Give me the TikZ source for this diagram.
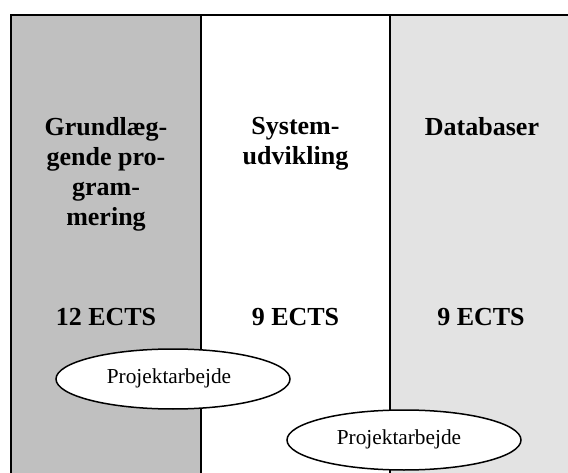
\documentclass[tikz,border=0pt]{standalone}
\usepackage{fontspec}
\setmainfont{Liberation Serif}
\usetikzlibrary{shapes.geometric}
\definecolor{colA}{HTML}{C0C0C0}
\definecolor{colC}{HTML}{E3E3E3}
\tikzset{
  colbox/.style={draw=black, line width=2pt, rectangle, anchor=north west, inner sep=0pt, outer sep=0pt, minimum height=520pt},
  head/.style={font=\bfseries\fontsize{26}{30}\selectfont, align=center, inner sep=0pt, anchor=north},
  ects/.style={font=\bfseries\fontsize{26}{30}\selectfont, inner sep=0pt, anchor=base},
  proj/.style={ellipse, draw=black, line width=1.5pt, fill=white, minimum width=234pt, minimum height=60pt, inner sep=0pt},
  projtext/.style={font=\fontsize{21.3}{25}\selectfont, inner sep=0pt}
}
\begin{document}
\begin{tikzpicture}[x=1pt,y=1pt]
\useasboundingbox (0,0) rectangle (568,-473);
\clip (0,0) rectangle (568,-473);
\node[colbox, fill=colA, minimum width=190pt] (c1) at (11,-15) {};
\node[colbox, fill=white, minimum width=189pt] (c2) at (201,-15) {};
\node[colbox, fill=colC, minimum width=190pt] (c3) at (390,-15) {};
\node[head] (h1) at (106,-117.5) {Grundlæg-\\gende pro-\\gram-\\mering};
\node[head] (h2) at (295.5,-117.5) {System-\\udvikling};
\node[head] (h3) at (482,-117.5) {Databaser};
\node[ects] (e1) at (106,-326) {12 ECTS};
\node[ects] (e2) at (295.5,-326) {9 ECTS};
\node[ects] (e3) at (481,-326) {9 ECTS};
\node[proj] (p1) at (173,-379) {};
\node[projtext] (t1) at (169,-378) {Projektarbejde};
\node[proj] (p2) at (404,-440) {};
\node[projtext] (t2) at (399,-439) {Projektarbejde};
\end{tikzpicture}
\end{document}
